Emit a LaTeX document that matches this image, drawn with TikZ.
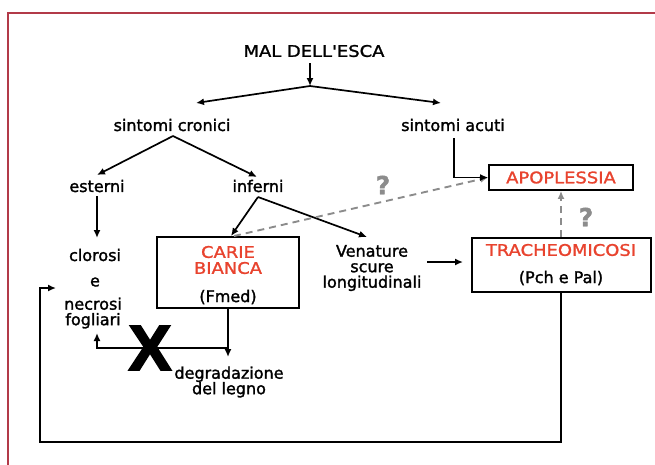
\documentclass[tikz,border=0pt]{standalone}
\usepackage{fontspec}
\setmainfont[FakeBold=1.6]{DejaVu Sans}
\newfontfamily\capsf[FakeStretch=1.12,FakeBold=1.4]{DejaVu Sans}
\newfontfamily\xfont[FakeBold=3]{Liberation Sans}
\usetikzlibrary{arrows.meta}
\definecolor{framered}{HTML}{B23A48}
\definecolor{txtred}{HTML}{E8432E}
\definecolor{qgray}{HTML}{8C8C8C}
\begin{document}
\begin{tikzpicture}[x=1pt,y=-1pt,
  txt/.style={font=\fontsize{16}{15.5}\selectfont, inner sep=0pt, align=center},
  captxt/.style={font=\capsf\fontsize{16}{16}\selectfont, inner sep=0pt, align=center},
  boxnode/.style={draw, line width=1.7pt, inner sep=0pt},
  conn/.style={line width=1.7pt, -{Latex[length=8pt,width=7pt]}},
  dashconn/.style={qgray, line width=1.9pt, dash pattern=on 7pt off 5pt, -{Latex[length=8pt,width=7pt]}},
  qmark/.style={font=\bfseries\fontsize{25}{25}\selectfont, text=qgray, inner sep=0pt}
]
\useasboundingbox (0,0) rectangle (655,464);
\draw[framered, line width=2pt] (8,470) -- (8,13) -- (662,13);

% text nodes
\node[captxt] (mal) at (314,51) {MAL DELL'ESCA};
\node[txt] (cron) at (172,125) {sintomi cronici};
\node[txt] (acuti) at (453,125) {sintomi acuti};
\node[txt] (est) at (97,186) {esterni};
\node[txt] (inf) at (258,186) {inferni};
\node[txt] (clor) at (95,255) {clorosi};
\node[txt] (eand) at (95,282) {e};
\node[txt] (necr) at (93,313) {necrosi\\fogliari};
\node[boxnode, minimum width=142pt, minimum height=71pt] (carie) at (228,272.5) {};
\node[captxt, text=txtred] (cb) at (228,260) {CARIE\\BIANCA};
\node[txt] (fmed) at (228,297) {(Fmed)};
\node[txt] (ven) at (372,268) {Venature\\scure\\longitudinali};
\node[boxnode, minimum width=179pt, minimum height=54pt] (trach) at (561.5,265) {};
\node[captxt, text=txtred] (trt) at (561,250) {TRACHEOMICOSI};
\node[txt] (pch) at (561,278) {(Pch e Pal)};
\node[boxnode, minimum width=144pt, minimum height=25pt] (apop) at (561,177.5) {};
\node[captxt, text=txtred] (apt) at (561,177.5) {APOPLESSIA};
\node[txt] (degr) at (229,382) {degradazione\\del legno};
\node[qmark] (q1) at (383,185) {?};
\node[qmark] (q2) at (586,217) {?};

% coordinates
\coordinate (malout) at (310,63);
\coordinate (malsplit) at (310,86);
\coordinate (cronTip) at (196,103);
\coordinate (acuTip) at (441,103);
\coordinate (cronsplit) at (173,136);
\coordinate (estTip) at (97,175);
\coordinate (infTip) at (257,177);
\coordinate (estout) at (97,196);
\coordinate (clorTip) at (97,238);
\coordinate (infsplit) at (258,197);
\coordinate (carieTip) at (231,236);
\coordinate (venTip) at (367,237);
\coordinate (carieDash) at (234,236);
\coordinate (acuout) at (454,138);
\coordinate (venout) at (427,262);
\coordinate (trachTip) at (463,262);
\coordinate (degrTip) at (228,357);
\coordinate (crossjoin) at (228,348);
\coordinate (crosscorner) at (97,348);
\coordinate (necrTipUp) at (97,333);
\coordinate (loopA) at (561,442);
\coordinate (loopB) at (40,442);
\coordinate (loopC) at (40,288);
\coordinate (necrTip) at (56,288);

% connectors
\draw[conn] (malout) -- (malsplit);
\draw[conn] (malsplit) -- (cronTip);
\draw[conn] (malsplit) -- (acuTip);
\draw[conn] (cronsplit) -- (estTip);
\draw[conn] (cronsplit) -- (infTip);
\draw[conn] (estout) -- (clorTip);
\draw[conn] (infsplit) -- (carieTip);
\draw[conn] (infsplit) -- (venTip);
\draw[dashconn] (carieDash) -- (apop.west);
\draw[conn] (acuout) |- (apop.west);
\draw[dashconn] (trach.north -| apop.south) -- (apop.south);
\draw[conn] (venout) -- (trachTip);
\draw[conn] (carie.south) -- (degrTip);
\draw[conn] (crossjoin) -- (crosscorner) -- (necrTipUp);
\draw[conn] (trach.south -| loopA) -- (loopA) -- (loopB) -- (loopC) -- (necrTip);

\node[font=\xfont\bfseries\fontsize{64}{64}\selectfont, inner sep=0pt] (xmark) at (150,348) {X};
\end{tikzpicture}
\end{document}
